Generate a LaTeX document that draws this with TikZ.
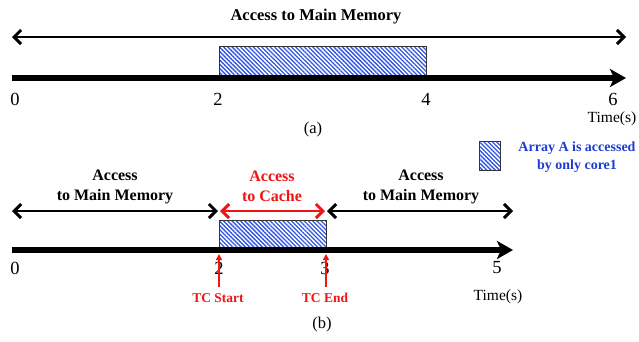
\documentclass[tikz,border=0pt]{standalone}
\usepackage{fontspec}
\setmainfont{Liberation Serif}
\usetikzlibrary{arrows.meta,patterns.meta}
\definecolor{legblue}{RGB}{30,60,210}
\definecolor{hatchblue}{RGB}{50,85,225}
\definecolor{tcred}{RGB}{240,20,20}
\tikzset{
  axisline/.style={line width=6pt,-{Stealth[length=16pt,width=18pt,inset=4pt]}},
  spanarrow/.style={line width=2.3pt,{Straight Barb[length=7pt,width=14pt,line width=3pt]}-{Straight Barb[length=7pt,width=14pt,line width=3pt]}},
  hatchbox/.style={draw=black!80,line width=0.8pt,inner sep=0pt,outer sep=0pt,
    pattern={Lines[angle=-45,distance=3pt,line width=1.3pt]},pattern color=hatchblue},
  ticklbl/.style={font=\fontsize{18.5}{20}\selectfont,inner sep=0pt},
  timelbl/.style={font=\fontsize{15.5}{17}\selectfont,inner sep=0pt},
  caplbl/.style={font=\fontsize{16.5}{18}\selectfont,inner sep=0pt},
  acclbl/.style={font=\bfseries\fontsize{16}{20}\selectfont,align=center,inner sep=0pt},
  tclbl/.style={font=\bfseries\fontsize{13.5}{16}\selectfont,text=tcred,inner sep=0pt},
  tcarrow/.style={draw=tcred,line width=1.5pt,-{Triangle[length=6pt,width=6pt]}},
}
\begin{document}
\begin{tikzpicture}[x=1pt,y=-1pt]
\useasboundingbox[fill=white] (0,0) rectangle (639,341);
% ---------------- (a) ----------------
\node[acclbl,font=\bfseries\fontsize{16.5}{20}\selectfont] (atitle) at (316,17) {Access to Main Memory};
\coordinate (al) at (12,37);
\coordinate (ar) at (626,37);
\draw[spanarrow] (al) -- (ar);
\node[hatchbox,minimum width=207pt,minimum height=31pt,anchor=south west] (ra) at (219,77) {};
\coordinate (a0) at (12,78);
\coordinate (a6) at (626,78);
\draw[axisline] (a0) -- (a6);
\node[ticklbl] (ta0) at (15,99) {0};
\node[ticklbl] (ta2) at (218,99) {2};
\node[ticklbl] (ta4) at (426,99) {4};
\node[ticklbl] (ta6) at (613,99) {6};
\node[timelbl] (tta) at (612,119) {Time(s)};
\node[caplbl] (capa) at (313,130) {(a)};
% ---------------- legend ----------------
\node[hatchbox,minimum width=21pt,minimum height=29pt,anchor=north west] (leg) at (479,141) {};
\node[acclbl,font=\bfseries\fontsize{14}{17.5}\selectfont,text=legblue] (legt) at (577,157) {Array A is accessed\\by only core1};
% ---------------- (b) ----------------
\coordinate (b0) at (12,250);
\coordinate (b5) at (513,250);
\coordinate (bl) at (12,211);
\coordinate (bm1) at (218,211);
\coordinate (bm2) at (220,211);
\coordinate (bm3) at (325,211);
\coordinate (bm4) at (327,211);
\coordinate (br) at (513,211);
\node[hatchbox,minimum width=107pt,minimum height=30pt,anchor=south west] (rb) at (219,250) {};
\draw[spanarrow] (bl) -- (bm1);
\draw[spanarrow,draw=tcred] (bm2) -- (bm3);
\draw[spanarrow] (bm4) -- (br);
\draw[axisline] (b0) -- (b5);
\node[acclbl] (accl) at (115,187) {Access\\to Main Memory};
\node[acclbl,text=tcred] (accc) at (272,186) {Access\\to Cache};
\node[acclbl] (accr) at (421,187) {Access\\to Main Memory};
\node[ticklbl] (tb0) at (15,268) {0};
\node[ticklbl] (tb2) at (219,268) {2};
\node[ticklbl] (tb3) at (325,268) {3};
\node[ticklbl] (tb5) at (497,268) {5};
\coordinate (ss) at (219,287);
\coordinate (se) at (219,254);
\coordinate (es) at (326,287);
\coordinate (ee) at (326,254);
\draw[tcarrow] (ss) -- (se);
\draw[tcarrow] (es) -- (ee);
\node[tclbl] (tcs) at (218,298) {TC Start};
\node[tclbl] (tce) at (325,298) {TC End};
\node[timelbl] (ttb) at (498,297) {Time(s)};
\node[caplbl] (capb) at (322,325) {(b)};
\end{tikzpicture}
\end{document}
